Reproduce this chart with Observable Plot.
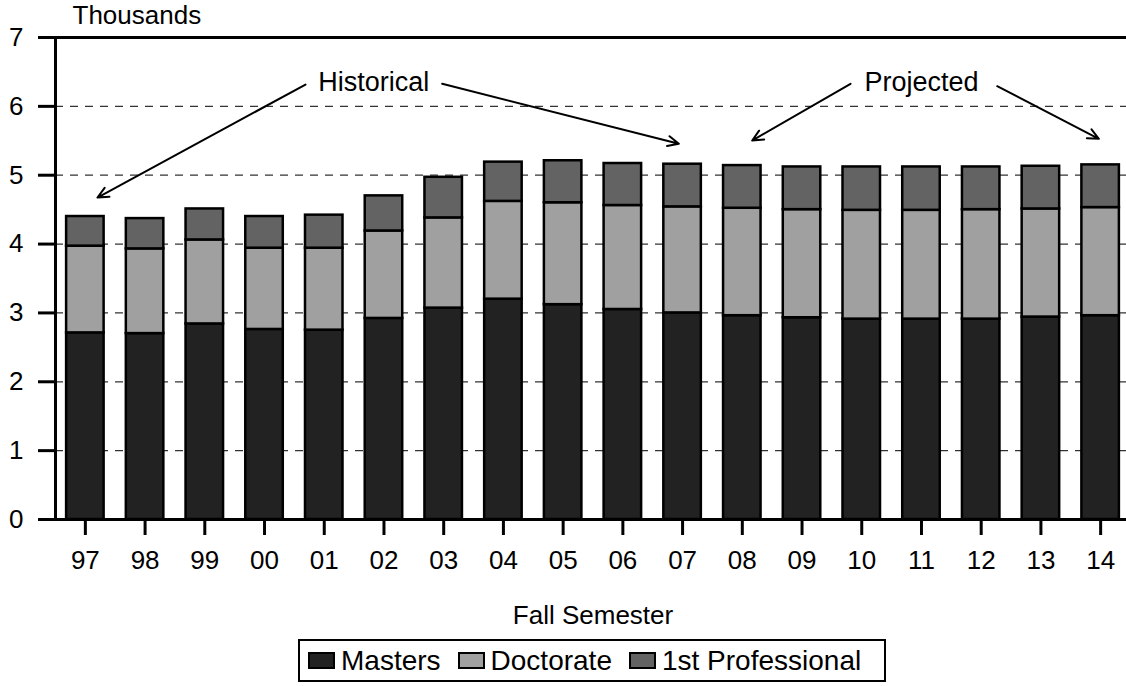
<!DOCTYPE html>
<html><head><meta charset="utf-8">
<script src="https://cdn.jsdelivr.net/npm/d3@7"></script>
<script src="https://cdn.jsdelivr.net/npm/@observablehq/plot@0.6"></script>
<style>
html,body{margin:0;padding:0;background:#fff;overflow:hidden;}
#wrap{position:relative;width:1126px;height:686px;font-family:"Liberation Sans",Arial,sans-serif;}
#legend{position:absolute;left:298px;top:639px;width:588px;height:43px;box-sizing:border-box;border:2px solid #000;display:flex;align-items:center;padding-left:8px;font-size:28px;white-space:nowrap;color:#000;}
.sw{width:27px;height:17px;box-sizing:border-box;border:2px solid #000;margin-right:6px;}
.item{display:flex;align-items:center;margin-right:17px;}
</style></head>
<body><div id="wrap"><div id="chart"></div><div id="legend"></div></div>
<script>
const years = ["97","98","99","00","01","02","03","04","05","06","07","08","09","10","11","12","13","14"];
const masters      = [2.71,2.70,2.84,2.76,2.75,2.92,3.07,3.20,3.12,3.05,3.00,2.96,2.93,2.91,2.91,2.91,2.94,2.96];
const doctorate    = [1.26,1.23,1.22,1.18,1.19,1.27,1.31,1.42,1.48,1.51,1.54,1.56,1.57,1.58,1.58,1.59,1.57,1.57];
const professional = [0.43,0.44,0.45,0.46,0.48,0.51,0.59,0.57,0.61,0.61,0.62,0.62,0.62,0.63,0.63,0.62,0.62,0.62];
const seriesNames = ["Masters","Doctorate","1st Professional"];
const seriesColors = ["#222222","#a0a0a0","#636363"];
const yTicks = [0,1,2,3,4,5,6,7];
const gridValues = [1,2,3,4,5,6];
// annotation labels positioned in data space (x = year index, y = thousands)
const annotationLabels = [
  {label:"Historical", x:4.83, y:6.355},
  {label:"Projected",  x:14.0, y:6.355}
];
const arrows = [
  {x1:3.686, y1:6.317, x2:0.203,  y2:4.676},
  {x1:5.975, y1:6.328, x2:9.937,  y2:5.456},
  {x1:12.812,y1:6.328, x2:11.166, y2:5.504},
  {x1:15.268,y1:6.293, x2:16.970, y2:5.529}
];

const seriesValues = [masters, doctorate, professional];
const table = [];
seriesNames.forEach((s, k) => {
  years.forEach((yr, i) => table.push({i, year: yr, series: s, value: seriesValues[k][i]}));
});

const half = 0.314;
const chart = Plot.plot({
  width: 1126,
  height: 632,
  marginLeft: 55,
  marginRight: -4,
  marginTop: 37,
  marginBottom: 113,
  x: {domain: [-0.5, 17.5]},
  y: {domain: [0, 7]},
  color: {domain: seriesNames, range: seriesColors},
  style: {fontFamily: '"Liberation Sans", Arial, sans-serif', fontSize: "26px", background: "#fff", color: "#000"},
  marks: [
    Plot.ruleY(gridValues, {stroke: "#333", strokeDasharray: "8,7", strokeWidth: 1.2}),
    Plot.rectY(table, Plot.stackY({
      x1: d => d.i - half, x2: d => d.i + half, y: "value", fill: "series",
      stroke: "#000", strokeWidth: 2.5
    })),
    Plot.ruleY([0, 7], {stroke: "#000", strokeWidth: 3}),
    Plot.ruleX([-0.5], {stroke: "#000", strokeWidth: 3}),
    Plot.axisY({ticks: yTicks, tickFormat: d => String(d), tickSize: 17, tickPadding: 15, strokeWidth: 3, label: null, fontSize: 26}),
    Plot.axisX({ticks: years.map((_, i) => i), tickFormat: i => years[i], tickSize: 16, tickPadding: 15, strokeWidth: 3, label: null, fontSize: 26}),
    Plot.text(["Thousands"], {frameAnchor: "top-left", lineAnchor: "middle", dx: 17, dy: -22, textAnchor: "start", fontSize: 26}),
    Plot.text(["Fall Semester"], {frameAnchor: "bottom", lineAnchor: "middle", dy: 96, fontSize: 26}),
    Plot.text(annotationLabels, {x: "x", y: "y", text: "label", lineAnchor: "middle", fontSize: 27}),
    Plot.arrow(arrows, {x1: "x1", y1: "y1", x2: "x2", y2: "y2", stroke: "#000", strokeWidth: 2, headLength: 9, headAngle: 50, bend: 0})
  ]
});
document.getElementById("chart").appendChild(chart);

const legend = document.getElementById("legend");
seriesNames.forEach((s, k) => {
  const item = document.createElement("div");
  item.className = "item";
  const sw = document.createElement("div");
  sw.className = "sw";
  sw.style.background = seriesColors[k];
  const t = document.createElement("span");
  t.textContent = s;
  item.appendChild(sw);
  item.appendChild(t);
  legend.appendChild(item);
});
</script>
</body></html>
